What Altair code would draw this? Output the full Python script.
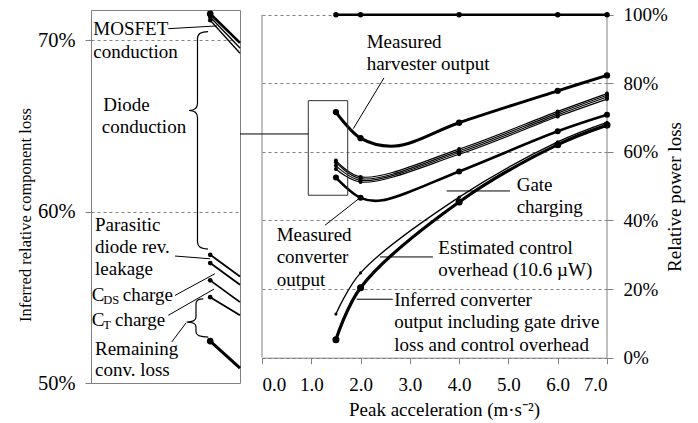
import altair as alt
import pandas as pd

FONT = "Liberation Serif"
GRAY = "#808080"

# ---------------- data ----------------
accel = [1.5, 2.0, 4.0, 6.0, 7.0]
harvester_input = [100.0, 100.0, 100.0, 100.0, 100.0]
harvester_output = [71.6, 64.0, 68.5, 77.8, 82.3]
after_diode = [57.5, 52.7, 60.8, 71.8, 77.0]
after_leakage = [57.0, 52.2, 60.3, 71.3, 76.5]
after_cds = [56.0, 51.7, 59.8, 70.8, 76.0]
after_ct = [55.0, 51.2, 59.3, 70.3, 75.4]
converter_output = [52.5, 46.6, 54.3, 66.0, 70.8]
after_gate = [12.7, 24.7, 46.8, 62.9, 68.6]
inferred_output = [5.2, 20.4, 45.4, 62.1, 67.8]

series_names = ["input", "harvester", "diode", "leakage", "cds", "ct",
                "converter", "gate", "inferred"]
series_values = [harvester_input, harvester_output, after_diode, after_leakage,
                 after_cds, after_ct, converter_output, after_gate, inferred_output]

# lowest points of the two dipping curves (no marker there)
trough_series = ["harvester", "converter"]
trough_accel = [2.7, 2.4]
trough_value = [61.7, 45.8]

# zoomed (left) panel: value at 1.5 m/s2 and where each line leaves the panel
zoom_x = [1.5, 1.65]
zoom_names = ["m1", "m2", "m3", "leak1", "leak2", "cds", "ct", "remaining"]
zoom_start = [71.55, 71.36, 71.17, 57.48, 57.0, 55.99, 55.01, 52.45]
zoom_edge = [69.85, 69.55, 69.25, 56.22, 55.73, 54.72, 53.95, 50.87]

# ---------------- styles ----------------
right_width = [2.5, 3.0, 1.2, 1.2, 1.2, 1.2, 2.6, 1.3, 3.2]
right_dot = [30, 40, 16, 16, 16, 16, 36, 10, 50]
left_width = [2.6, 1.4, 1.4, 1.8, 1.8, 1.8, 1.8, 3.0]
left_dot = [45, 20, 20, 22, 22, 22, 22, 45]

rows = []
for name, vals, w, s in zip(series_names, series_values, right_width, right_dot):
    for a, v in zip(accel, vals):
        rows.append({"series": name, "accel": a, "value": v, "w": w, "s": s, "marker": True})
    for tn, ta, tv in zip(trough_series, trough_accel, trough_value):
        if tn == name:
            rows.append({"series": name, "accel": ta, "value": tv, "w": w, "s": s, "marker": False})
df_right = pd.DataFrame(rows).sort_values(["series", "accel"])
df_right_pts = df_right[df_right["marker"]]

rows = []
for name, v0, v1, w, s in zip(zoom_names, zoom_start, zoom_edge, left_width, left_dot):
    rows.append({"series": name, "accel": zoom_x[0], "value": v0, "w": w, "s": s})
    rows.append({"series": name, "accel": zoom_x[1], "value": v1, "w": w, "s": s})
df_left = pd.DataFrame(rows)
df_left_pts = df_left[df_left["accel"] == zoom_x[0]]

# ---------------- axes ----------------
X_AXIS_R = alt.Axis(title="Peak acceleration (m·s⁻²)", values=list(range(8)), format=".1f",
                    offset=-25.3, grid=False, tickSize=6, labelPadding=12, titlePadding=6,
                    titleX=182, domainColor=GRAY, tickColor=GRAY)
Y_AXIS_R = alt.Axis(orient="right", title="Relative power loss", values=[0, 20, 40, 60, 80, 100],
                    labelExpr="datum.value + '%'", grid=True, gridDash=[3, 3], gridColor=GRAY,
                    domain=False, tickSize=6, tickColor=GRAY, labelPadding=10,
                    titleAngle=270, titleBaseline="middle", titleX=67)
Y_AXIS_L = alt.Axis(title="Inferred relative component loss", values=[50, 60, 70],
                    labelExpr="datum.value + '%'", grid=True, gridDash=[3, 3], gridColor=GRAY,
                    domain=False, tickSize=6, tickColor=GRAY, labelPadding=10,
                    labelFontSize=20.5, titleFontSize=16.5,
                    titleAngle=270, titleBaseline="middle", titleX=-65.5, titleY=204.5)

XS_R = alt.Scale(domain=[0, 7], nice=False, zero=False)
YS_R = alt.Scale(domain=[-7.4, 101.37], nice=False, zero=False)
XS_L = alt.Scale(domain=[0.9, 1.65], nice=False, zero=False)
YS_L = alt.Scale(domain=[50, 71.77], nice=False, zero=False)


def xr():
    return alt.X("accel:Q", scale=XS_R, axis=X_AXIS_R)


def yr():
    return alt.Y("value:Q", scale=YS_R, axis=Y_AXIS_R)


def xl():
    return alt.X("accel:Q", scale=XS_L, axis=None)


def yl():
    return alt.Y("value:Q", scale=YS_L, axis=Y_AXIS_L)


# ---------------- right panel ----------------
r_lines = alt.Chart(df_right).mark_line(interpolate="catmull-rom", color="black").encode(
    x=xr(), y=yr(), detail="series:N", strokeWidth=alt.StrokeWidth("w:Q", scale=None))
r_points = alt.Chart(df_right_pts).mark_circle(color="black", opacity=1).encode(
    x=xr(), y=yr(), size=alt.Size("s:Q", scale=None))

r_borders = alt.Chart(pd.DataFrame({"accel": [0, 7], "value": [0, 0], "value2": [100, 100]})).mark_rule(
    color=GRAY, strokeWidth=1).encode(x=xr(), y=yr(), y2=alt.Y2("value2:Q"))

r_box = alt.Chart(pd.DataFrame({"accel": [0.939], "accel2": [1.739], "value": [47.35], "value2": [74.93]})).mark_rect(
    fillOpacity=0, stroke="#303030", strokeWidth=1).encode(
    x=xr(), x2=alt.X2("accel2:Q"), y=yr(), y2=alt.Y2("value2:Q"))

r_pointer_df = pd.DataFrame({
    "accel": [2.475, 1.278, 3.747, 2.394, 1.921, -0.446],
    "value": [81.55, 38.60, 48.60, 29.36, 17.03, 65.22],
    "accel2": [1.852, 2.009, 5.031, 3.469, 2.652, 0.939],
    "value2": [66.76, 46.85, 48.60, 29.36, 17.03, 65.22],
})
r_pointers = alt.Chart(r_pointer_df).mark_rule(color="black", strokeWidth=1).encode(
    x=xr(), y=yr(), x2=alt.X2("accel2:Q"), y2=alt.Y2("value2:Q"))

r_text_df = pd.DataFrame({
    "label": ["Measured", "harvester output",
              "Measured", "converter", "output",
              "Gate", "charging",
              "Estimated control", "overhead (10.6 µW)",
              "Inferred converter", "output including gate drive", "loss and control overhead"],
    "accel": [2.124, 2.124, 0.298, 0.298, 0.298, 5.167, 5.167, 3.577, 3.577, 2.684, 2.684, 2.684],
    "value": [92.0, 85.7, 35.7, 29.2, 22.6, 50.3, 43.9, 32.0, 25.5, 16.8, 10.3, 3.7],
})
r_text = alt.Chart(r_text_df).mark_text(align="left", baseline="middle", font=FONT, fontSize=19,
                                        color="black").encode(x=xr(), y=yr(), text="label:N")

right = alt.layer(r_borders, r_lines, r_points, r_box, r_pointers, r_text).properties(
    width=345, height=373)

# ---------------- left (zoom) panel ----------------
l_lines = alt.Chart(df_left).mark_line(color="black").encode(
    x=xl(), y=yl(), detail="series:N", strokeWidth=alt.StrokeWidth("w:Q", scale=None))
l_points = alt.Chart(df_left_pts).mark_circle(color="black", opacity=1).encode(
    x=xl(), y=yl(), size=alt.Size("s:Q", scale=None))

l_pointer_df = pd.DataFrame({
    "accel": [1.289, 1.323, 1.323, 1.289, 1.306],
    "value": [70.68, 57.41, 55.11, 53.95, 52.39],
    "accel2": [1.533, 1.499, 1.524, 1.519, 1.378],
    "value2": [70.84, 57.25, 56.38, 55.48, 53.50],
})
l_pointers = alt.Chart(l_pointer_df).mark_rule(color="black", strokeWidth=1).encode(
    x=xl(), y=yl(), x2=alt.X2("accel2:Q"), y2=alt.Y2("value2:Q"))

l_text_df = pd.DataFrame({
    "label": ["MOSFET", "conduction", "Diode", "conduction", "Parasitic", "diode rev.", "leakage",
              "C", "charge", "C", "charge", "Remaining", "conv. loss"],
    "accel": [0.9116, 0.9116, 0.9619, 0.9539, 0.9201, 0.9201, 0.9201,
              0.9035, 1.0596, 0.9035, 1.0208, 0.9201, 0.9201],
    "value": [70.69, 69.32, 66.21, 64.94, 59.20, 57.93, 56.67,
              55.15, 55.15, 53.67, 53.67, 52.00, 50.74],
})
l_text = alt.Chart(l_text_df).mark_text(align="left", baseline="middle", font=FONT, fontSize=19,
                                        color="black").encode(x=xl(), y=yl(), text="label:N")
l_sub_df = pd.DataFrame({"label": ["DS", "T"], "accel": [0.9619, 0.9619], "value": [54.87, 53.41]})
l_sub = alt.Chart(l_sub_df).mark_text(align="left", baseline="middle", font=FONT, fontSize=12.5,
                                      color="black").encode(x=xl(), y=yl(), text="label:N")

DIODE_BRACE = ("M 0.097 -1 Q 0 -1 0 -0.936 L 0 -0.338 Q 0 -0.274 -0.078 -0.274 "
               "Q 0 -0.274 0 -0.21 L 0 0.936 Q 0 1 0.097 1")
REMAIN_BRACE = ("M 0.381 -1 Q 0 -1 0 -0.74 L 0 -0.043 Q 0 0.217 -0.486 0.217 "
                "Q 0 0.217 0 0.477 L 0 0.74 Q 0 1 0.642 1")
brace1 = alt.Chart(pd.DataFrame({"accel": [1.436], "value": [64.165]})).mark_point(
    shape=DIODE_BRACE, filled=False, size=47306, strokeWidth=1.2, color="black", opacity=1).encode(
    x=xl(), y=yl())
brace2 = alt.Chart(pd.DataFrame({"accel": [1.4285], "value": [53.797]})).mark_point(
    shape=REMAIN_BRACE, filled=False, size=1467, strokeWidth=1.2, color="black", opacity=1).encode(
    x=xl(), y=yl())

left = alt.layer(l_lines, l_points, l_pointers, l_text, l_sub, brace1, brace2).properties(
    width=149, height=373, view=alt.ViewBackground(stroke=GRAY, strokeWidth=1))

chart = alt.hconcat(left, right, spacing=22, bounds="flush").properties(
    padding={"left": 9, "top": -3, "right": 2, "bottom": 2}
).configure_view(stroke=None).configure_axis(
    labelFont=FONT, titleFont=FONT, labelFontSize=19, titleFontSize=19,
    labelColor="black", titleColor="black", titleFontWeight="normal")

chart.save("out.html", embed_options={"renderer": "svg", "actions": False})
